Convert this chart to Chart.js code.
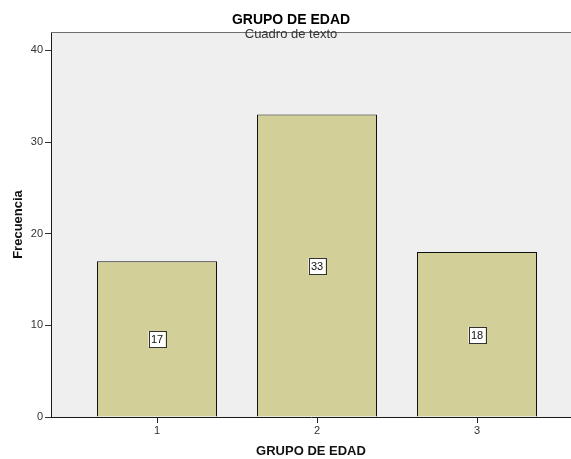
<!DOCTYPE html>
<html><head><meta charset="utf-8">
<script src="https://cdn.jsdelivr.net/npm/chart.js@4"></script>
<style>html,body{margin:0;padding:0;background:#fff;overflow:hidden}#wrap{width:571px;height:459px;position:relative}</style>
</head><body><div id="wrap"><canvas id="c" width="571" height="459"></canvas></div>
<script>
const categories = ["1", "2", "3"];
const frequencies = [17, 33, 18];
const yTicks = [0, 10, 20, 30, 40];
const chartTitle = "GRUPO DE EDAD";
const chartSubtitle = "Cuadro de texto";
const xTitle = "GRUPO DE EDAD";
const yTitle = "Frecuencia";

const FONT = "Arial, 'Liberation Sans', sans-serif";
const points = categories.map((c, i) => ({x: i + 1, y: frequencies[i]}));

const framePlugin = {
  id: 'frame',
  beforeDraw(chart) {
    const {ctx, chartArea: a} = chart;
    ctx.save();
    ctx.fillStyle = '#efefef';
    ctx.fillRect(a.left, a.top, a.right - a.left, a.bottom - a.top);
    ctx.restore();
  },
  afterDraw(chart) {
    const {ctx, chartArea: a} = chart;
    ctx.save();
    ctx.strokeStyle = '#6e6e6e';
    ctx.lineWidth = 1;
    ctx.beginPath();
    ctx.moveTo(a.left, a.top + 0.5); ctx.lineTo(a.right, a.top + 0.5);
    ctx.stroke();
    const xs = chart.scales.x;
    ctx.fillStyle = '#222';
    categories.forEach((c, i) => {
      const px = Math.round(xs.getPixelForValue(i + 1));
      ctx.fillRect(px, Math.round(a.bottom), 1, 6);
    });
    const meta = chart.getDatasetMeta(0);
    ctx.font = '11px ' + FONT;
    ctx.textAlign = 'center';
    ctx.textBaseline = 'middle';
    const ys = chart.scales.y;
    meta.data.forEach((bar, i) => {
      const v = frequencies[i];
      const cy = Math.round(ys.getPixelForValue(v / 2));
      const cx = Math.round(bar.x);
      const w = Math.ceil(ctx.measureText(String(v)).width) + 4;
      const h = 16;
      ctx.fillStyle = '#ffffff';
      ctx.fillRect(cx - w / 2, cy - h / 2, w, h);
      ctx.strokeStyle = '#333';
      ctx.strokeRect(Math.round(cx - w / 2) + 0.5, cy - h / 2 + 0.5, w, h);
      ctx.fillStyle = '#111';
      ctx.fillText(String(v), cx, cy + 1);
    });
    ctx.fillStyle = '#000';
    ctx.font = 'bold 14px ' + FONT;
    ctx.fillText(chartTitle, 291, 20);
    ctx.fillStyle = '#333';
    ctx.font = '13px ' + FONT;
    ctx.fillText(chartSubtitle, 291, 34);
    ctx.restore();
  }
};

new Chart(document.getElementById('c'), {
  type: 'bar',
  data: {
    datasets: [{
      data: points,
      backgroundColor: '#d3cf98',
      borderColor: '#111111',
      borderWidth: 1,
      barPercentage: 0.75,
      categoryPercentage: 1.0
    }]
  },
  options: {
    responsive: false,
    animation: false,
    devicePixelRatio: 1,
    layout: {padding: {top: 32, right: 0, left: 0, bottom: 0}},
    plugins: {legend: {display: false}, tooltip: {enabled: false}, title: {display: false}},
    scales: {
      x: {
        type: 'linear',
        offset: false,
        bounds: 'data',
        min: 0.3375,
        max: 3.5875,
        afterBuildTicks(s) { s.ticks = categories.map((c, i) => ({value: i + 1})); },
        afterFit(s) { s.height = 42; },
        ticks: {
          autoSkip: false,
          maxRotation: 0,
          color: '#333',
          font: {size: 11, family: FONT},
          padding: 2,
          callback: (v) => categories[v - 1]
        },
        grid: {display: true, offset: false, drawOnChartArea: false, drawTicks: true, tickLength: 5, color: '#333'},
        border: {display: true, color: '#1a1a1a', width: 1},
        title: {display: true, text: xTitle, color: '#111', font: {size: 13, weight: 'bold', family: FONT}, padding: {top: 5, bottom: 0}}
      },
      y: {
        min: 0,
        max: 42,
        afterBuildTicks(s) { s.ticks = yTicks.map(v => ({value: v})); },
        afterFit(s) { s.width = 51; },
        ticks: {color: '#333', font: {size: 11, family: FONT}, padding: 2},
        grid: {display: true, drawOnChartArea: false, drawTicks: true, tickLength: 6, color: '#333'},
        border: {display: true, color: '#1a1a1a', width: 1},
        title: {display: true, text: yTitle, color: '#111', font: {size: 13, weight: 'bold', family: FONT}, padding: {top: 11, bottom: 0}}
      }
    }
  },
  plugins: [framePlugin]
});
</script></body></html>
